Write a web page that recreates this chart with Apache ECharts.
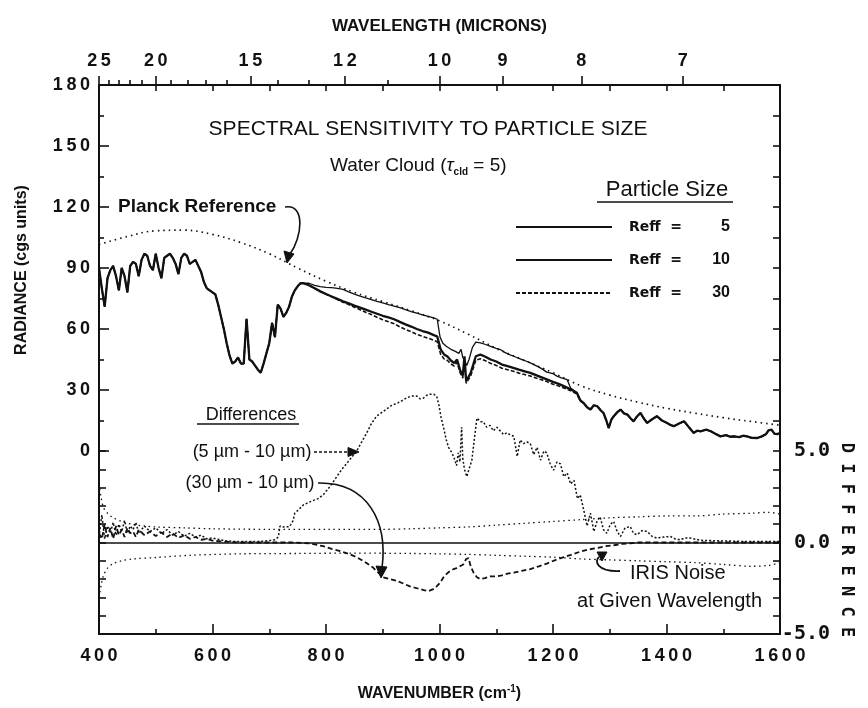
<!DOCTYPE html>
<html><head><meta charset="utf-8">
<script src="https://cdn.jsdelivr.net/npm/echarts@6/dist/echarts.min.js"></script>
<style>html,body{margin:0;padding:0;background:#fff}#c{width:868px;height:708px}</style>
</head><body><div id="c"></div>
<script>
// ---------- tick labels ----------
const radianceTickLabels = [0, 30, 60, 90, 120, 150, 180];
const radianceMinorTicks = [15, 45, 75, 105, 135, 165];
const radianceRightTicks = [15, 30, 45, 60, 75, 90, 105, 120, 135, 150, 165, 180];
const differenceTickLabels = [-5, 0, 5];
const differenceTicks = [-5, -4, -3, -2, -1, 0, 1, 2, 3, 4, 5];
const wavelengthLabels = [25, 20, 15, 12, 10, 9, 8, 7];
const wavelengthMinorTicks = [24, 23, 22, 21, 19, 18, 17, 16, 14, 13, 11];

// ---------- data: [wavenumber cm-1, value] ----------
const planckReference = [[400,101.5],[450,105.5],[500,108.3],[550,108.6],[600,106.5],[650,102.5],[700,97],[750,90],[800,83.5],[850,78],[900,73.5],[950,69],[1000,64],[1050,57.5],[1100,50.5],[1150,44.5],[1200,38.5],[1250,32],[1300,27.5],[1350,24],[1400,21],[1450,18.6],[1500,16.4],[1550,14.5],[1600,12.7]];

// common to all particle sizes below 760 cm-1
const radianceLowBand = [[400,90],[405,80],[410,71],[415,85],[420,89],[425,91],[430,86],[435,79],[440,90],[445,86],[450,78],[455,91],[460,93],[465,92],[470,86],[475,94],[480,97],[485,96],[490,91],[495,89],[500,97],[505,90],[510,85],[515,95],[520,96],[525,97],[530,95],[535,92],[540,87],[545,95],[550,97],[555,96],[560,92],[565,93],[570,94],[575,91],[580,88],[585,83],[590,80],[595,79],[600,78],[605,77],[610,72],[615,66],[620,60],[625,53],[630,47],[635,43],[640,44],[645,46],[650,43],[655,43],[660,65],[665,45],[670,44],[675,42],[680,40],[685,38.5],[690,43],[695,48],[700,53],[705,63],[710,56],[715,72],[720,70],[725,66],[730,68],[735,71],[740,76],[745,79],[750,81],[755,82.5],[760,82.5]];

// window region where the sizes differ
const reff5Window = [[770,82.5],[780,81.5],[790,80.8],[800,80.5],[810,80.3],[820,80],[830,79.5],[840,78.3],[850,77.2],[860,76.2],[870,75.3],[880,74.5],[890,73.6],[900,72.8],[910,72],[920,71.3],[930,70.5],[940,69.5],[950,68.6],[960,67.8],[970,67],[980,66.2],[990,65.5],[996,64.8],[1001,56],[1006,53],[1012,51.5],[1020,50],[1028,49],[1034,48],[1038,50],[1041,46],[1045,44],[1048,42],[1052,45],[1058,51],[1064,53.5],[1072,53.2],[1080,52.5],[1090,51.5],[1100,50.5],[1107,49.9],[1115,48.5],[1122,47.5],[1131,46.6],[1140,45.5],[1150,44.5],[1160,43.3],[1170,42],[1180,40.5],[1189,38.8],[1200,38],[1207,36.8],[1215,36],[1225,35.1],[1231,31],[1242,28.6],[1248,25],[1254,23.6]];
const reff10Window = [[770,81.5],[780,80],[790,78.5],[800,77.2],[810,76],[820,74.8],[830,73.6],[840,72.6],[850,71.5],[860,70.5],[870,69.5],[880,68.5],[890,67.5],[900,66.5],[910,65.7],[920,64.8],[930,63.5],[940,62.3],[950,61.2],[960,60],[970,59],[980,58.2],[990,57],[996,56.3],[1002,50],[1008,47.5],[1014,46.5],[1020,44.5],[1026,43.3],[1031,45],[1036,40],[1041,37],[1044,46.5],[1047,34.3],[1050,35],[1055,38.4],[1060,43],[1064,46.6],[1072,47.4],[1080,46.5],[1090,45],[1100,44],[1110,42.5],[1120,41.7],[1130,40.9],[1140,40],[1150,39.2],[1160,38.4],[1170,37.3],[1180,36.2],[1190,35.1],[1200,34],[1210,33],[1220,31.8],[1230,30.5],[1242,28.6],[1248,25],[1254,23.6]];
const reff30Window = [[770,81.5],[780,80],[790,78.4],[800,77.1],[810,75.8],[820,74.5],[830,73.2],[840,72],[850,70.7],[860,69.5],[870,68.2],[880,67.1],[890,65.8],[900,64.6],[910,63.6],[920,62.6],[930,61.1],[940,59.8],[950,58.7],[960,57.4],[970,56.4],[980,55.5],[990,54.4],[996,53.7],[1002,47.6],[1008,45.3],[1014,44.5],[1020,42.8],[1026,41.8],[1031,43.6],[1036,38.7],[1041,35.8],[1044,45.3],[1047,33.3],[1050,34],[1055,37],[1060,41.2],[1064,44.7],[1072,45.4],[1080,44.5],[1090,43.1],[1100,42.1],[1110,40.7],[1120,40],[1130,39.2],[1140,38.3],[1150,37.6],[1160,36.9],[1170,35.9],[1180,35],[1190,34],[1200,32.8],[1210,32],[1220,30.9],[1230,29.8],[1242,28.1],[1248,24.6],[1254,23.6]];

// common to all particle sizes above 1254 cm-1
const radianceHighBand = [[1260,21.5],[1266,20.4],[1272,22.5],[1278,22],[1284,20],[1289,18.7],[1294,15],[1298,11.3],[1303,15.5],[1307,17.1],[1313,19],[1319,20.4],[1325,18.5],[1331,17.9],[1337,16],[1342,14.6],[1348,17],[1354,18.7],[1360,16],[1366,13.8],[1374,15.5],[1383,17.1],[1392,15],[1401,13.8],[1407,12.8],[1413,12.2],[1422,13.5],[1431,14.6],[1440,11.5],[1448,8.9],[1454,10],[1460,9.7],[1470,10.5],[1478,9.7],[1486,8.5],[1495,7.2],[1505,7.8],[1512,7],[1519,7.2],[1528,6.8],[1535,7.5],[1542,7.2],[1550,6.5],[1560,6.4],[1568,7.2],[1575,8.2],[1580,10.2],[1585,10.5],[1590,8.5],[1595,8.3],[1600,8.8]];

// differences (right axis)
const diff5minus10 = [[400,0.3],[405,1.5],[410,0.2],[415,0.9],[420,0.5],[425,1.1],[430,0.4],[435,1.0],[440,0.6],[445,1.2],[450,0.5],[455,0.9],[460,0.7],[465,1.1],[470,0.5],[480,0.9],[490,0.6],[500,0.8],[510,0.5],[520,0.7],[530,0.4],[540,0.6],[550,0.35],[560,0.5],[570,0.3],[580,0.4],[590,0.2],[600,0.25],[620,0.1],[640,0.05],[660,0.05],[680,0.05],[700,0.1],[710,0.15],[716,0.3],[719,0.9],[725,0.85],[736,0.87],[742,1.2],[745,1.6],[752,1.8],[760,2.05],[770,2.2],[778,2.3],[786,2.4],[795,2.6],[807,3.06],[819,3.6],[828,4.0],[836,4.3],[845,4.65],[854,5.0],[863,5.5],[872,6.0],[880,6.5],[889,6.9],[898,7.1],[907,7.3],[916,7.5],[925,7.6],[934,7.75],[942,7.9],[950,8.0],[960,8.0],[966,7.85],[972,7.9],[978,8.05],[983,8.1],[990,8.1],[995,8.0],[999,7.5],[1003,6.8],[1007,6.3],[1012,5.6],[1016,5.2],[1020,5.0],[1025,4.7],[1030,4.2],[1033,4.9],[1036,4.4],[1039,6.3],[1041,4.6],[1044,4.0],[1048,3.6],[1052,4.0],[1057,4.5],[1062,5.8],[1066,6.8],[1072,6.6],[1077,6.6],[1083,6.3],[1089,6.4],[1095,6.1],[1101,6.3],[1107,6.1],[1113,5.9],[1119,6.0],[1124,5.9],[1131,5.8],[1137,4.7],[1142,5.6],[1148,5.4],[1154,5.5],[1160,5.4],[1166,4.8],[1172,5.2],[1178,4.5],[1184,5.0],[1189,4.9],[1195,4.3],[1201,3.95],[1207,4.4],[1213,4.3],[1219,3.6],[1225,3.8],[1231,3.2],[1237,3.4],[1243,2.4],[1248,2.6],[1254,1.8],[1260,0.9],[1266,1.6],[1272,0.6],[1278,1.2],[1283,1.4],[1289,0.7],[1295,0.5],[1301,1.0],[1307,1.15],[1313,0.6],[1319,0.33],[1327,0.8],[1336,0.87],[1342,0.5],[1348,0.42],[1357,0.65],[1366,0.6],[1374,0.35],[1383,0.24],[1395,0.3],[1407,0.33],[1415,0.2],[1424,0.15],[1433,0.25],[1442,0.24],[1460,0.12],[1483,0.1],[1510,0.08],[1542,0.05],[1570,0.05],[1600,0.05]];
const diff30minus10 = [[400,0.5],[405,0.2],[410,1.0],[415,0.3],[420,0.8],[425,0.2],[430,0.9],[435,0.4],[440,0.7],[445,0.3],[450,0.8],[455,0.5],[460,0.6],[465,0.3],[470,0.7],[480,0.4],[490,0.6],[500,0.35],[510,0.55],[520,0.3],[530,0.5],[540,0.25],[550,0.4],[560,0.2],[570,0.3],[580,0.15],[590,0.2],[600,0.1],[620,0.05],[650,0],[700,0],[740,0],[772,-0.05],[795,-0.2],[810,-0.35],[825,-0.47],[840,-0.62],[854,-0.8],[868,-1.05],[883,-1.37],[892,-1.65],[901,-1.9],[913,-2.0],[925,-2.1],[937,-2.25],[948,-2.4],[960,-2.5],[972,-2.6],[981,-2.65],[989,-2.55],[995,-2.4],[1001,-2.2],[1007,-1.9],[1013,-1.7],[1019,-1.55],[1025,-1.45],[1030,-1.4],[1036,-1.3],[1042,-1.2],[1047,-0.9],[1051,-0.85],[1055,-1.3],[1060,-1.65],[1066,-1.9],[1072,-2.0],[1080,-1.95],[1089,-1.85],[1100,-1.85],[1110,-1.8],[1120,-1.7],[1131,-1.65],[1145,-1.55],[1160,-1.45],[1175,-1.3],[1189,-1.15],[1205,-0.95],[1219,-0.8],[1234,-0.65],[1248,-0.5],[1263,-0.38],[1278,-0.3],[1293,-0.2],[1307,-0.15],[1322,-0.08],[1336,-0.04],[1350,0],[1380,0],[1600,0]];
const irisNoiseUpper = [[400,3.2],[404,2.4],[408,1.9],[415,1.6],[425,1.35],[440,1.15],[460,0.98],[480,0.9],[500,0.85],[550,0.8],[600,0.75],[700,0.72],[800,0.72],[900,0.72],[950,0.75],[1000,0.8],[1050,0.85],[1100,0.95],[1150,1.05],[1200,1.15],[1250,1.25],[1300,1.35],[1350,1.4],[1400,1.45],[1450,1.45],[1500,1.55],[1550,1.6],[1580,1.65],[1600,1.55]];
const irisNoiseLower = [[400,-3.0],[404,-2.3],[408,-1.8],[415,-1.4],[425,-1.15],[440,-1.0],[460,-0.9],[500,-0.82],[560,-0.7],[650,-0.62],[750,-0.6],[850,-0.58],[950,-0.6],[1000,-0.62],[1050,-0.65],[1100,-0.7],[1150,-0.75],[1200,-0.8],[1250,-0.9],[1300,-0.95],[1350,-1.0],[1400,-1.05],[1450,-1.1],[1500,-1.2],[1550,-1.3],[1580,-1.25],[1600,-1.1]];

// ---------- chart ----------
const INK = '#111';
const FONT = 'Liberation Sans, Arial, sans-serif';
const MONO = 'DejaVu Sans Mono, monospace';
const spaced = v => String(v).split('').join('\u2009');
const labelStyle = {color: INK, fontFamily: FONT, fontWeight: 'bold', fontSize: 18};
const frame = {onZero: false, lineStyle: {color: INK, width: 2}};
const tickLine = {color: INK, width: 1.6};
const xBase = {type: 'value', min: 400, max: 1600, splitLine: {show: false}};
const yRad = {type: 'value', min: -90, max: 180, interval: 30, splitLine: {show: false}};
const yDiff = {type: 'value', min: -5, max: 25, interval: 5, splitLine: {show: false}};
const hidden = {show: false, onZero: false};

const chart = echarts.init(document.getElementById('c'));
const line = (name, data, yAxisIndex, lineStyle, extra) => Object.assign({
  name, type: 'line', data, xAxisIndex: 0, yAxisIndex, symbol: 'none', showSymbol: false,
  lineStyle: Object.assign({color: INK}, lineStyle), itemStyle: {color: INK}, silent: true
}, extra || {});

const txt = (x, y, text, font, o) => {
  o = o || {};
  return {type: 'text', x, y, rotation: o.rot || 0, z: 20, silent: true,
    style: Object.assign({text, font, fill: INK, textAlign: o.align || 'center', textVerticalAlign: 'middle'}, o.style || {})};
};
const arrowHead = (pts) => ({type: 'polygon', z: 20, silent: true, shape: {points: pts}, style: {fill: INK, stroke: INK, lineWidth: 1}});

chart.setOption({
  animation: false,
  backgroundColor: '#fff',
  grid: {left: 99, right: 88, top: 85, bottom: 74},
  xAxis: [
    Object.assign({}, xBase, {position: 'bottom', interval: 200, axisLine: frame,
      axisTick: {inside: true, length: 10, lineStyle: tickLine},
      minorTick: {show: true, splitNumber: 2, length: 5, lineStyle: tickLine},
      axisLabel: Object.assign({}, labelStyle, {margin: 13, formatter: v => spaced(v)}),
      name: '{a|WAVENUMBER (cm}{s|-1}{a|)}', nameLocation: 'middle', nameGap: 50,
      nameTextStyle: {rich: {a: {fontSize: 16, fontWeight: 'bold', fontFamily: FONT, color: INK, lineHeight: 20},
        s: {fontSize: 10, fontWeight: 'bold', fontFamily: FONT, color: INK, lineHeight: 10, verticalAlign: 'top'}}}}),
    Object.assign({}, xBase, {position: 'top', axisLine: frame,
      axisTick: {inside: false, length: 9, lineStyle: tickLine, customValues: wavelengthLabels.map(l => 10000 / l)},
      axisLabel: Object.assign({}, labelStyle, {margin: 15, customValues: wavelengthLabels.map(l => 10000 / l),
        formatter: v => spaced(Math.round(10000 / v))}),
      name: 'WAVELENGTH (MICRONS)', nameLocation: 'middle', nameGap: 50,
      nameTextStyle: {fontSize: 17, fontWeight: 'bold', fontFamily: FONT, color: INK}}),
    Object.assign({}, xBase, {position: 'top', axisLine: hidden,
      axisTick: {inside: false, length: 5, lineStyle: tickLine, customValues: wavelengthMinorTicks.map(l => 10000 / l)},
      axisLabel: {show: false}}),
    Object.assign({}, xBase, {position: 'top', interval: 100, axisLine: hidden,
      axisTick: {inside: true, length: 6, lineStyle: tickLine}, axisLabel: {show: false}})
  ],
  yAxis: [
    Object.assign({}, yRad, {position: 'left', axisLine: frame,
      axisTick: {inside: true, length: 10, lineStyle: tickLine, customValues: radianceTickLabels},
      axisLabel: Object.assign({}, labelStyle, {margin: 9, customValues: radianceTickLabels, formatter: v => spaced(v)})}),
    Object.assign({}, yRad, {position: 'left', axisLine: hidden,
      axisTick: {inside: true, length: 5, lineStyle: tickLine, customValues: radianceMinorTicks}, axisLabel: {show: false}}),
    Object.assign({}, yDiff, {position: 'right', axisLine: frame,
      axisTick: {inside: true, length: 7, lineStyle: tickLine, customValues: differenceTicks},
      axisLabel: {customValues: differenceTickLabels, formatter: v => v.toFixed(1), color: INK,
        fontFamily: MONO, fontWeight: 'bold', fontSize: 20, align: 'right', margin: 50}}),
    Object.assign({}, yDiff, {position: 'left', axisLine: hidden,
      axisTick: {inside: true, length: 7, lineStyle: tickLine, customValues: differenceTicks}, axisLabel: {show: false}}),
    Object.assign({}, yRad, {position: 'right', axisLine: hidden,
      axisTick: {inside: true, length: 7, lineStyle: tickLine, customValues: radianceRightTicks}, axisLabel: {show: false}})
  ],
  legend: {
    data: ['Reff = 5', 'Reff = 10', 'Reff = 30'], orient: 'vertical', left: 510, top: 214,
    itemWidth: 96, itemHeight: 14, itemGap: 17, selectedMode: false,
    itemStyle: {opacity: 0},
    formatter: n => '{a|Reff  =}{b|' + n.split('= ')[1] + '}',
    textStyle: {rich: {
      a: {fontSize: 14, fontWeight: 'bold', fontFamily: 'DejaVu Sans', color: INK, width: 60, padding: [0, 0, 0, 12]},
      b: {fontSize: 16, fontWeight: 'bold', fontFamily: FONT, color: INK, width: 41, align: 'right'}}}
  },
  series: [
    line('Planck Reference', planckReference, 0, {width: 1.7, type: [1.5, 4]}, {smooth: 0.4}),
    line('Reff = 5', radianceLowBand.concat(reff5Window, radianceHighBand), 0, {width: 1.3}),
    line('Reff = 30', radianceLowBand.concat(reff30Window, radianceHighBand), 0, {width: 1.6, type: [4, 2]}),
    line('Reff = 10', radianceLowBand.concat(reff10Window, radianceHighBand), 0, {width: 2.3}),
    line('5 µm - 10 µm', diff5minus10, 2, {width: 1.5, type: [2, 2]}),
    line('30 µm - 10 µm', diff30minus10, 2, {width: 1.8, type: [5, 3]}, {
      markLine: {silent: true, symbol: 'none', label: {show: false}, animation: false,
        lineStyle: {color: INK, width: 1.6, type: 'solid'}, data: [{yAxis: 0}]}}),
    line('IRIS noise upper', irisNoiseUpper, 2, {width: 1.3, type: [1.5, 3.5]}, {smooth: 0.3}),
    line('IRIS noise lower', irisNoiseLower, 2, {width: 1.3, type: [1.5, 3.5]}, {smooth: 0.3})
  ],
  graphic: [
    txt(22, 270, 'RADIANCE (cgs units)', 'bold 16px ' + FONT, {rot: Math.PI / 2}),
    txt(846, 540, 'D I F F E R E N C E', 'bold 17px ' + MONO, {rot: -Math.PI / 2}),
    txt(428, 129, 'SPECTRAL SENSITIVITY TO PARTICLE SIZE', '21px ' + FONT),
    {type: 'text', x: 330, y: 166, z: 20, silent: true, style: {
      text: '{n|Water Cloud (}{t|τ}{s|cld}{n| = 5)}', textVerticalAlign: 'middle', fill: INK,
      rich: {n: {font: '19px ' + FONT, fill: INK, lineHeight: 22},
        t: {font: 'italic 19px ' + FONT, fill: INK, lineHeight: 22},
        s: {font: 'bold 10px ' + FONT, fill: INK, lineHeight: 9, verticalAlign: 'bottom'}}}},
    txt(667, 190, 'Particle Size', '22px ' + FONT),
    {type: 'line', z: 20, silent: true, shape: {x1: 597, y1: 202, x2: 733, y2: 202}, style: {stroke: INK, lineWidth: 1.5}},
    txt(118, 207, 'Planck Reference', 'bold 19px ' + FONT, {align: 'left'}),
    {type: 'bezierCurve', z: 20, silent: true, shape: {x1: 285, y1: 207, cpx1: 306, cpy1: 203, cpx2: 302, cpy2: 238, x2: 290, y2: 254},
      style: {stroke: INK, lineWidth: 1.6, fill: null}},
    arrowHead([[287, 263], [284, 251], [294, 254]]),
    txt(251, 415, 'Differences', '18px ' + FONT),
    {type: 'line', z: 20, silent: true, shape: {x1: 197, y1: 424, x2: 299, y2: 424}, style: {stroke: INK, lineWidth: 1.4}},
    txt(252, 452, '(5 µm - 10 µm)', '18px ' + FONT),
    {type: 'line', z: 20, silent: true, shape: {x1: 314, y1: 452, x2: 350, y2: 452}, style: {stroke: INK, lineWidth: 1.4, lineDash: [3, 2]}},
    arrowHead([[359, 452], [348, 447.5], [348, 456.5]]),
    txt(250, 483, '(30 µm - 10 µm)', '18px ' + FONT),
    {type: 'bezierCurve', z: 20, silent: true, shape: {x1: 318, y1: 483, cpx1: 368, cpy1: 482, cpx2: 388, cpy2: 522, x2: 382, y2: 568},
      style: {stroke: INK, lineWidth: 1.6, fill: null}},
    arrowHead([[381, 578], [376, 566], [387, 567]]),
    {type: 'bezierCurve', z: 20, silent: true, shape: {x1: 620, y1: 571, cpx1: 597, cpy1: 572, cpx2: 594, cpy2: 561, x2: 599, y2: 557},
      style: {stroke: INK, lineWidth: 1.8, fill: null}},
    arrowHead([[607, 552], [597, 552], [602, 561]]),
    txt(630, 573, 'IRIS Noise', '20px ' + FONT, {align: 'left'}),
    txt(762, 601, 'at Given Wavelength', '20px ' + FONT, {align: 'right'})
  ]
});
</script>
</body></html>
